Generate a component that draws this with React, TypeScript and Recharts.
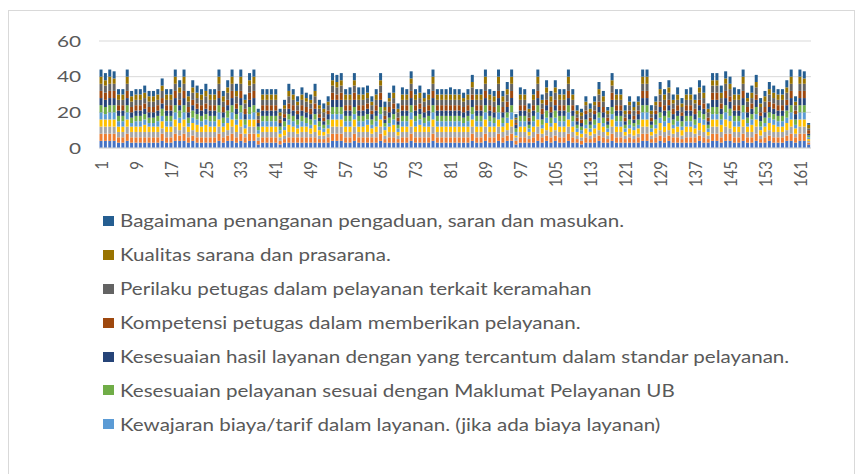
import { BarChart, Bar, XAxis, YAxis, CartesianGrid } from "recharts"

// respondent scores per question (1-4), bar = one respondent, stacked bottom -> top
const q1 = [
  4,4,4,4,3,3,4,3,3,3, 3,3,3,3,4,3,3,4,4,4, 3,4,3,3,3,3,3,4,3,4, 4,3,4,3,4,4,2,3,3,3,
  3,2,3,3,3,3,3,3,3,3, 3,3,3,4,4,4,3,3,4,3, 3,3,3,3,4,3,3,3,3,3, 3,4,3,3,3,3,4,3,3,3,
  3,3,3,3,3,4,3,3,4,3, 3,4,3,4,4,2,3,3,3,3, 4,3,4,3,4,3,3,4,3,3, 2,3,3,3,4,3,3,4,3,3,
  3,3,3,3,4,4,3,3,4,3, 4,3,3,3,3,3,3,4,3,3, 4,4,3,4,4,3,3,4,3,3, 4,3,3,4,3,3,3,4,4,3,
  4,4,2,
]
const q2 = [
  4,4,4,4,3,3,4,3,3,3, 3,3,3,3,4,3,3,4,3,4, 3,3,3,3,3,3,3,4,3,3, 4,3,4,3,4,4,2,3,3,3,
  3,2,2,3,3,3,3,3,3,3, 2,2,3,4,4,4,3,3,4,3, 3,3,3,3,4,2,3,3,2,3, 3,4,3,3,3,3,4,3,3,3,
  3,3,3,3,3,4,3,3,4,3, 3,4,3,3,4,2,3,3,2,3, 4,3,3,3,3,3,3,4,3,2, 2,3,2,3,3,3,2,4,3,3,
  2,3,2,3,4,4,2,3,3,3, 3,3,3,2,3,3,3,3,3,2, 4,4,3,4,4,3,3,4,3,3, 4,2,3,3,3,3,3,3,4,3,
  4,4,1,
]
const q3 = [
  4,4,4,4,3,3,4,3,3,3, 3,3,3,3,3,3,3,4,3,4, 3,3,3,3,3,3,3,4,3,3, 4,3,4,2,4,4,2,3,3,3,
  3,2,2,3,3,2,3,3,2,3, 2,2,2,4,4,4,3,3,4,3, 3,3,2,3,4,2,3,3,2,3, 3,4,3,3,3,3,4,3,3,3,
  3,3,3,3,3,4,3,3,4,3, 3,4,3,3,4,2,3,3,2,3, 4,2,3,3,3,3,3,4,3,2, 2,2,2,2,3,3,2,4,3,3,
  2,2,2,2,4,4,2,2,3,3, 3,2,3,2,3,3,2,3,3,2, 4,4,3,4,3,3,3,4,3,3, 4,2,3,3,3,3,3,3,4,2,
  4,4,1,
]
const q4 = [
  4,4,4,4,3,3,4,3,3,3, 4,3,3,3,4,3,3,4,4,4, 3,4,4,3,4,3,3,4,3,4, 4,4,4,3,4,4,2,3,3,3,
  3,2,3,4,3,3,3,3,3,4, 3,2,3,4,4,4,3,3,4,3, 3,4,3,3,4,3,3,4,2,3, 3,4,3,4,3,3,4,3,3,3,
  3,3,3,3,3,4,3,3,4,3, 3,4,3,4,4,1,3,3,2,3, 4,3,4,3,4,3,3,4,3,2, 2,3,2,3,4,3,2,4,3,3,
  2,3,3,3,4,4,2,3,4,3, 4,3,3,3,3,3,3,4,4,2, 4,4,4,4,4,3,3,4,3,4, 4,3,3,4,4,3,3,4,4,3,
  4,4,1,
]
const q5 = [
  4,3,4,4,3,3,4,2,3,3, 3,2,2,3,3,3,3,4,3,4, 2,3,3,3,3,3,3,4,2,3, 4,3,4,2,3,4,2,3,3,3,
  3,2,2,3,3,2,3,2,2,3, 2,2,2,3,3,3,3,3,3,3, 3,3,2,3,3,2,2,3,2,3, 3,4,3,3,2,3,4,3,3,3,
  3,3,3,2,3,3,3,3,4,3, 2,4,2,3,4,2,3,3,2,3, 4,2,3,2,3,3,3,4,3,2, 2,2,2,2,3,2,2,3,3,3,
  2,2,2,2,4,4,2,2,3,3, 3,2,3,2,3,3,2,3,3,2, 3,3,3,4,3,3,3,4,2,3, 3,2,2,3,3,3,3,3,4,2,
  4,4,1,
]
const q6 = [
  4,4,4,4,3,3,4,3,3,3, 3,3,3,3,4,3,3,4,4,4, 3,4,3,3,3,3,3,4,3,4, 4,3,4,3,4,4,2,3,3,3,
  3,2,3,3,3,3,3,3,3,3, 3,2,3,4,4,4,3,3,4,3, 3,3,3,3,4,2,3,3,2,3, 3,4,3,3,3,3,4,3,3,3,
  3,3,3,3,3,4,3,3,4,3, 3,4,3,3,4,2,3,3,2,3, 4,3,4,3,4,3,3,4,3,2, 2,3,2,3,3,3,2,4,3,3,
  2,3,2,3,4,4,2,3,3,3, 4,3,3,3,3,3,3,4,3,2, 4,4,3,4,4,3,3,4,3,3, 4,3,3,3,3,3,3,4,4,3,
  4,4,1,
]
const q7 = [
  4,4,4,4,3,3,4,3,3,3, 3,3,3,3,3,3,3,4,3,4, 3,3,3,3,3,3,3,4,3,3, 4,3,4,3,4,4,2,3,3,3,
  3,2,2,3,3,3,3,3,3,3, 2,2,3,4,4,4,3,3,4,3, 3,3,3,3,4,2,3,3,2,3, 3,4,3,3,3,3,4,3,3,3,
  3,3,3,3,3,4,3,3,4,3, 3,4,3,3,4,2,3,3,2,3, 4,3,3,3,3,3,3,4,3,2, 2,3,2,3,3,3,2,4,3,3,
  2,3,2,3,4,4,2,3,3,3, 3,3,3,3,3,3,3,3,3,2, 4,4,3,4,4,3,3,4,3,3, 4,3,3,3,3,3,3,3,4,3,
  4,4,1,
]
const q8 = [
  4,4,4,4,3,3,4,3,3,3, 3,3,3,3,3,3,3,4,3,4, 3,3,3,3,3,3,3,4,3,3, 4,3,4,3,4,4,2,3,3,3,
  3,2,2,3,3,2,3,3,3,3, 2,2,2,4,3,4,3,3,4,3, 3,3,2,3,4,2,3,3,2,3, 3,4,3,3,3,3,4,3,3,3,
  3,3,3,3,3,3,3,3,4,3, 3,4,3,3,4,1,3,3,2,3, 4,3,3,3,3,3,3,4,3,2, 2,2,2,2,3,3,2,4,3,3,
  2,2,2,2,4,4,2,2,3,3, 3,3,3,2,3,3,3,3,3,2, 4,4,3,4,3,3,3,4,3,3, 3,2,3,3,3,3,3,3,4,2,
  4,4,2,
]
const q9 = [
  4,4,4,4,3,3,4,3,3,3, 3,3,3,3,4,3,3,4,4,4, 3,4,3,3,4,3,3,4,3,4, 4,4,4,3,4,4,2,3,3,3,
  3,2,3,4,3,3,3,3,3,4, 3,3,3,4,4,4,3,3,4,3, 3,3,3,3,4,3,3,3,3,3, 3,4,3,3,3,3,4,3,3,3,
  3,3,3,3,3,4,3,3,4,3, 3,4,3,4,4,2,3,3,3,3, 4,3,4,3,4,3,3,4,3,2, 2,3,3,3,4,3,2,4,3,3,
  2,3,3,3,4,4,2,3,4,3, 4,3,3,3,3,3,3,4,3,3, 4,4,3,4,4,3,3,4,3,3, 4,3,3,4,3,3,3,4,4,3,
  4,4,1,
]
const q10 = [
  4,3,4,3,3,3,4,3,3,3, 3,3,3,3,3,3,3,4,3,4, 3,3,3,3,3,3,3,4,3,3, 4,3,4,2,3,4,2,3,3,3,
  3,2,2,3,3,2,3,2,2,3, 2,2,2,3,3,3,3,3,3,3, 3,3,2,3,3,2,2,3,2,3, 3,3,3,3,2,3,4,3,3,3,
  3,3,3,2,3,3,3,3,4,3, 3,4,3,3,4,1,3,3,2,3, 4,2,3,3,3,3,3,4,3,2, 2,2,2,2,3,3,2,3,3,3,
  2,2,2,2,4,4,2,2,3,3, 3,2,3,2,3,3,2,3,3,2, 3,3,3,3,3,3,3,4,2,3, 3,2,3,3,3,3,3,3,4,2,
  4,3,2,
]
const q11 = [
  4,4,4,4,3,3,4,3,3,3, 4,3,3,3,4,3,3,4,4,4, 3,4,4,3,4,3,3,4,3,4, 4,4,4,3,4,4,2,3,3,3,
  3,2,3,4,3,3,4,3,3,4, 3,3,3,4,4,4,3,4,4,4, 4,4,3,3,4,3,3,4,3,4, 3,4,3,4,3,3,4,3,3,3,
  4,3,3,3,3,4,3,3,4,3, 3,4,3,4,4,2,4,3,3,3, 4,3,4,3,4,3,3,4,3,3, 2,3,3,3,4,3,2,4,3,3,
  3,3,3,3,4,4,3,3,4,3, 4,3,4,3,3,4,3,4,4,3, 4,4,4,4,4,4,3,4,3,4, 4,3,3,4,4,3,3,4,4,3,
  4,4,1,
]

const seriesValues = [q1, q2, q3, q4, q5, q6, q7, q8, q9, q10, q11]
const seriesNames = [
  "Kesesuaian persyaratan pelayanan.",
  "Kemudahan prosedur pelayanan.",
  "Kecepatan waktu pelayanan.",
  "Kesesuaian produk pelayanan.",
  "Kewajaran biaya/tarif dalam layanan. (jika ada biaya layanan)",
  "Kesesuaian pelayanan sesuai dengan Maklumat Pelayanan UB",
  "Kesesuaian hasil layanan dengan yang tercantum dalam standar pelayanan.",
  "Kompetensi petugas dalam memberikan pelayanan.",
  "Perilaku petugas dalam pelayanan terkait keramahan",
  "Kualitas sarana dan prasarana.",
  "Bagaimana penanganan pengaduan, saran dan masukan.",
]
const seriesColors = [
  "#4472C4", "#ED7D31", "#A5A5A5", "#FFC000", "#5B9BD5", "#70AD47",
  "#264478", "#9E480E", "#636363", "#997300", "#255E91",
]
// only the last 7 entries fit in the legend box, listed top series first
const legendOrder = [10, 9, 8, 7, 6, 5, 4]

const respondents = q1.map((_, i) => String(i + 1))
const yTicks = [0, 20, 40, 60]

const data = respondents.map((id, i) => {
  const row: Record<string, string | number> = { id }
  seriesValues.forEach((vals, k) => {
    row["q" + (k + 1)] = vals[i]
  })
  return row
})

const textColor = "#595959"
const font = "Lato, 'Open Sans', sans-serif"

function YTick(props: any) {
  const { x, y, payload } = props
  return (
    <g transform={`translate(${x},${y})`}>
      <text transform="scale(1.3,1)" textAnchor="end" dy="0.355em" fill={textColor} fontSize={16} fontFamily={font}>
        {payload.value}
      </text>
    </g>
  )
}

function XTick(props: any) {
  const { x, y, payload } = props
  return (
    <g transform={`translate(${x},${y + 5}) scale(1.2,1) rotate(-90)`}>
      <text textAnchor="end" dy="0.36em" fill={textColor} fontSize={15} fontFamily={font}>
        {payload.value}
      </text>
    </g>
  )
}

export default function App() {
  return (
    <div style={{ position: "absolute", left: 0, top: 0, width: 862, height: 474, background: "#fff", overflow: "hidden" }}>
      <div style={{ position: "absolute", left: 8, top: 10, width: 845, height: 480, border: "1px solid #d9d9d9" }} />
      <div style={{ position: "absolute", left: 0, top: 0 }}>
        <BarChart width={862} height={200} data={data} margin={{ top: 41, right: 51, left: 0, bottom: 0 }} barCategoryGap="12%">
          <CartesianGrid vertical={false} stroke="#d9d9d9" />
          <XAxis dataKey="id" interval={7} tickLine={false} axisLine={{ stroke: "#d9d9d9" }} height={52} tick={<XTick />} />
          <YAxis width={99} domain={[0, 60]} ticks={yTicks} tickLine={false} axisLine={false} tickMargin={12} tick={<YTick />} />
          {seriesValues.map((_, k) => (
            <Bar key={k} dataKey={"q" + (k + 1)} stackId="a" fill={seriesColors[k]} isAnimationActive={false} />
          ))}
        </BarChart>
      </div>
      <div style={{ position: "absolute", left: 103, top: 204, fontFamily: font, color: textColor }}>
        {legendOrder.map((k) => (
          <div key={k} style={{ height: 33.9, display: "flex", alignItems: "center" }}>
            <span style={{ width: 11, height: 10, background: seriesColors[k], marginRight: 6, flexShrink: 0 }} />
            <span style={{ fontSize: 17, whiteSpace: "nowrap", display: "inline-block", transform: "scaleX(1.21)", transformOrigin: "left center" }}>
              {seriesNames[k]}
            </span>
          </div>
        ))}
      </div>
    </div>
  )
}
